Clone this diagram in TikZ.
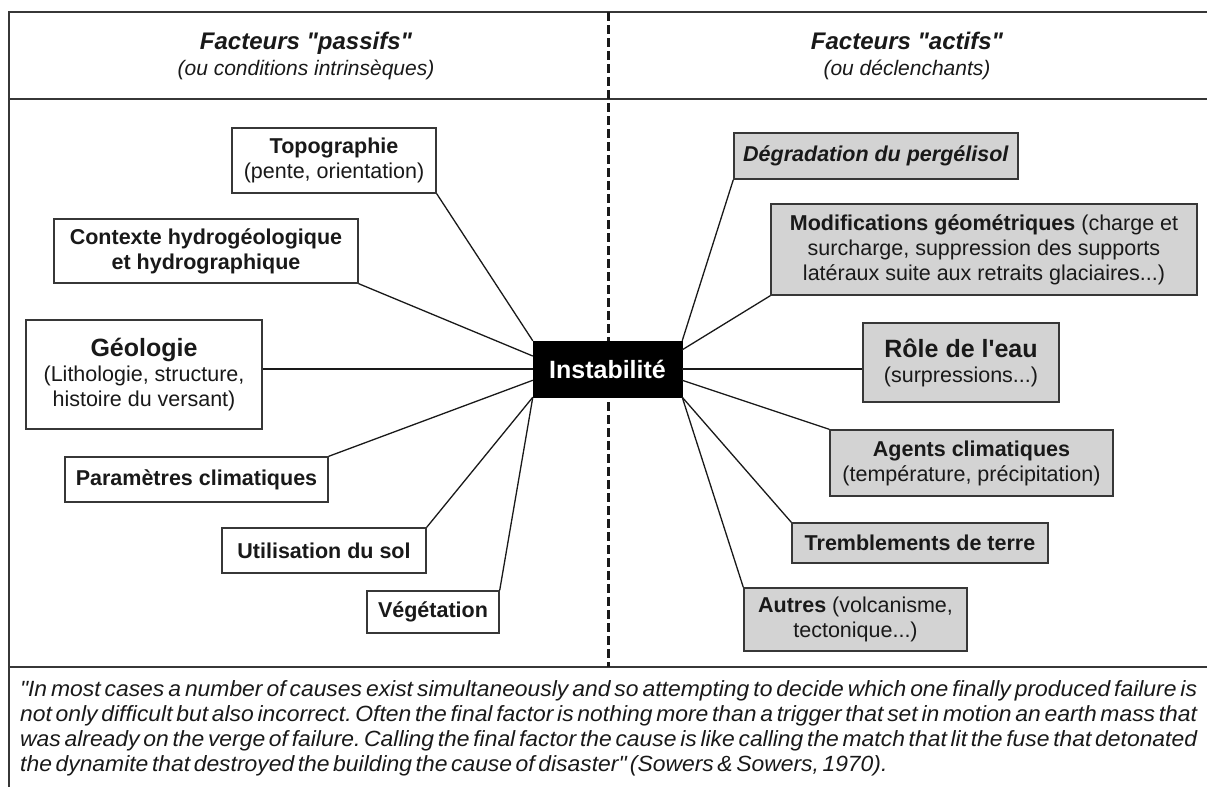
\documentclass[tikz,border=0pt]{standalone}
\usepackage{fontspec}
\setmainfont{Liberation Sans}
\newfontfamily\myQuoteFam[FakeStretch=1.04]{Liberation Sans}
\usetikzlibrary{calc}
\definecolor{boxgray}{RGB}{211,211,211}
\definecolor{ink}{RGB}{25,25,25}
\definecolor{framec}{RGB}{55,55,55}
\newcommand{\myLbl}{\fontsize{21.5}{25}\selectfont}
\newcommand{\myBig}{\fontsize{25}{29}\selectfont\bfseries}
\newcommand{\myTitle}{\fontsize{24}{28}\selectfont\bfseries\itshape}
\newcommand{\mySubT}{\fontsize{21}{25}\selectfont\itshape}
\newcommand{\myQuote}{\myQuoteFam\fontsize{22}{25}\selectfont\itshape\frenchspacing\spaceskip=3.6pt plus 6pt minus 1pt\relax}
\begin{document}
\begin{tikzpicture}[x=1pt,y=-1pt,
  frameline/.style={line width=1.8pt, draw=framec},
  divider/.style={line width=3pt, draw=ink, dash pattern=on 9pt off 4pt},
  passive/.style={draw=framec, line width=1.4pt, fill=white, align=center, inner sep=0pt, text=ink, font=\myLbl},
  active/.style={passive, fill=boxgray},
  center/.style={fill=black, draw=black, inner sep=0pt, text=white, font=\myBig},
  link/.style={line width=1.3pt, draw=ink},
  hdr/.style={anchor=base, text=ink, inner sep=0pt},
  qline/.style={anchor=base west, text=ink, inner sep=0pt, font=\myQuote},
]
\useasboundingbox (0,0) rectangle (1207,787);
% frame
\coordinate (tl) at (9,12);
\coordinate (tr) at (1207,12);
\coordinate (bl) at (9,787);
\coordinate (hl) at (9,99);
\coordinate (hr) at (1207,99);
\coordinate (fl) at (9,667);
\coordinate (fr) at (1207,667);
\coordinate (dtop) at (608,12);
\coordinate (dbot) at (608,667);
\draw[frameline] (tr) -- (tl) -- (bl);
\draw[frameline] (hl) -- (hr);
\draw[frameline] (fl) -- (fr);
\draw[divider] (dtop) -- (dbot);

% header
\node[hdr, font=\myTitle] (hp) at (306,49) {Facteurs \textquotedbl passifs\textquotedbl};
\node[hdr, font=\mySubT] (hps) at (306,75) {(ou conditions intrinsèques)};
\node[hdr, font=\myTitle] (ha) at (907,49) {Facteurs \textquotedbl actifs\textquotedbl};
\node[hdr, font=\mySubT] (has) at (907,75) {(ou déclenchants)};

% center
\node[center, minimum width=149pt, minimum height=56pt] (inst) at (607.5,369) {Instabilité};

% passive factors
\node[passive, minimum width=204pt, minimum height=65pt] (topo) at (334,160.5) {\textbf{Topographie}\\(pente, orientation)};
\node[passive, minimum width=304pt, minimum height=64pt] (ctx) at (206,251) {\textbf{Contexte hydrogéologique}\\\textbf{et hydrographique}};
\node[passive, minimum width=236pt, minimum height=109pt] (geo) at (144,374.5) {{\myBig Géologie}\\(Lithologie, structure,\\histoire du versant)};
\node[passive, minimum width=263pt, minimum height=45pt] (param) at (196.5,479.5) {\textbf{Paramètres climatiques}};
\node[passive, minimum width=204pt, minimum height=45pt] (util) at (324,550.5) {\textbf{Utilisation du sol}};
\node[passive, minimum width=132pt, minimum height=42pt] (veg) at (433,612) {\textbf{Végétation}};

% active factors
\node[active, minimum width=284pt, minimum height=46pt] (deg) at (876,156) {\textbf{\textit{Dégradation du pergélisol}}};
\node[active, minimum width=426pt, minimum height=91pt] (mod) at (984,249.5) {\textbf{Modifications géométriques} (charge et\\surcharge, suppression des supports\\latéraux suite aux retraits glaciaires...)};
\node[active, minimum width=196pt, minimum height=79pt] (role) at (961,362.5) {{\myBig Rôle de l\textquotesingle eau}\\(surpressions...)};
\node[active, minimum width=283pt, minimum height=66pt] (agents) at (971.5,463) {\textbf{Agents climatiques}\\(température, précipitation)};
\node[active, minimum width=256pt, minimum height=40pt] (trem) at (920,543) {\textbf{Tremblements de terre}};
\node[active, minimum width=223pt, minimum height=63pt] (autres) at (855.5,619.5) {\textbf{Autres} (volcanisme,\\tectonique...)};

% connectors
\draw[link] (topo.south east) -- (inst.north west);
\draw[link] (ctx.south east) -- ($(inst.north west)!0.27!(inst.south west)$);
\draw[link] (inst.west) -- (inst.west -| geo.east);
\draw[link] (param.north east) -- ($(inst.north west)!0.70!(inst.south west)$);
\draw[link] (util.north east) -- (inst.south west);
\draw[link] (veg.north east) -- (inst.south west);
\draw[link] (deg.south west) -- (inst.north east);
\draw[link] (mod.south west) -- ($(inst.north east)!0.16!(inst.south east)$);
\draw[link] (inst.east) -- (inst.east -| role.west);
\draw[link] (agents.north west) -- ($(inst.north east)!0.70!(inst.south east)$);
\draw[link] (trem.north west) -- (inst.south east);
\draw[link] (autres.north west) -- (inst.south east);

% quote
\node[qline] (q1) at (20,696) {\makebox[1177pt][s]{\textquotedbl In most cases a number of causes exist simultaneously and so attempting to decide which one finally produced failure is}};
\node[qline] (q2) at (20,721) {\makebox[1177pt][s]{not only difficult but also incorrect. Often the final factor is nothing more than a trigger that set in motion an earth mass that}};
\node[qline] (q3) at (20,746) {\makebox[1177pt][s]{was already on the verge of failure. Calling the final factor the cause is like calling the match that lit the fuse that detonated}};
\node[qline] (q4) at (20,771) {the dynamite that destroyed the building the cause of disaster\textquotedbl{} (Sowers \& Sowers, 1970).};
\end{tikzpicture}
\end{document}
